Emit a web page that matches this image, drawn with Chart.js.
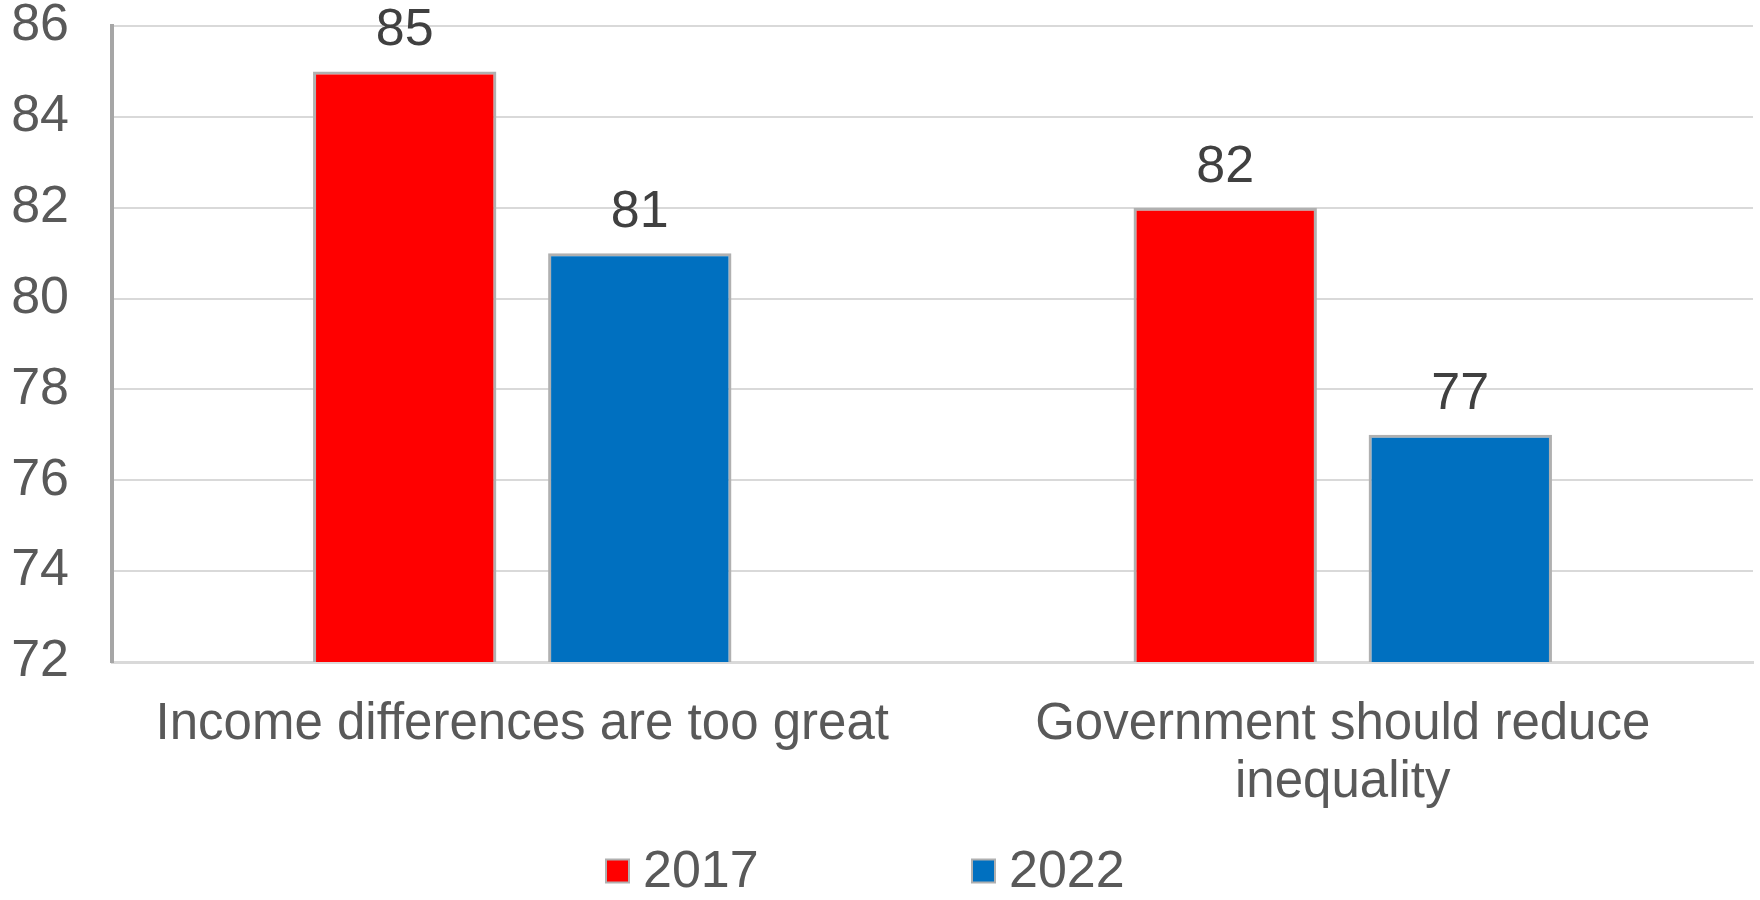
<!DOCTYPE html>
<html lang="en">
<head>
    <meta charset="UTF-8">
    <title>Income inequality attitudes 2017 vs 2022</title>
    <style>
        body {
            margin: 0;
            background: #fff;
        }

        #chart {
            display: block;
        }
    </style>
</head>
<body>
    <canvas id="chart" width="1760" height="900"></canvas>

    <script src="https://cdn.jsdelivr.net/npm/chart.js"></script>
    <script>
        // Survey data
        const categories = [
            'Income differences are too great',
            ['Government should reduce', 'inequality']
        ];
        const years = ['2017', '2022'];
        const values2017 = [85, 82];
        const values2022 = [81, 77];
        const yMin = 72;
        const yMax = 86;
        const yStep = 2;

        const FONT = "'Liberation Sans', Arial, sans-serif";
        const FONT_SIZE = 52;
        const colors = ['#ff0000', '#0070c0'];

        // Value labels above each bar
        const valueLabels = {
            id: 'valueLabels',
            afterDatasetsDraw(chart) {
                const ctx = chart.ctx;
                ctx.save();
                ctx.font = FONT_SIZE + 'px ' + FONT;
                ctx.fillStyle = '#404040';
                ctx.textAlign = 'center';
                ctx.textBaseline = 'alphabetic';
                chart.data.datasets.forEach((ds, i) => {
                    chart.getDatasetMeta(i).data.forEach((bar, j) => {
                        ctx.fillText(ds.data[j], bar.x, bar.y - 26);
                    });
                });
                ctx.restore();
            }
        };

        // Legend drawn under the category labels
        const bottomLegend = {
            id: 'bottomLegend',
            afterDraw(chart) {
                const ctx = chart.ctx;
                const startX = 606;
                const itemGap = 366;
                const cy = 871;
                const box = 23;
                ctx.save();
                ctx.font = FONT_SIZE + 'px ' + FONT;
                ctx.textBaseline = 'middle';
                ctx.textAlign = 'left';
                chart.data.datasets.forEach((ds, i) => {
                    const x = startX + i * itemGap;
                    ctx.fillStyle = ds.backgroundColor;
                    ctx.fillRect(x, cy - box / 2, box, box);
                    ctx.strokeStyle = '#b0b0b0';
                    ctx.lineWidth = 2;
                    ctx.strokeRect(x, cy - box / 2, box, box);
                    ctx.fillStyle = '#595959';
                    ctx.fillText(ds.label, x + box + 14, cy + 2);
                });
                ctx.restore();
            }
        };

        new Chart(document.getElementById('chart'), {
            type: 'bar',
            data: {
                labels: categories,
                datasets: [
                    {
                        label: years[0],
                        data: values2017,
                        backgroundColor: colors[0],
                        borderColor: '#b0b0b0',
                        borderWidth: 3
                    },
                    {
                        label: years[1],
                        data: values2022,
                        backgroundColor: colors[1],
                        borderColor: '#b0b0b0',
                        borderWidth: 3
                    }
                ]
            },
            options: {
                responsive: false,
                animation: false,
                categoryPercentage: 0.573,
                barPercentage: 0.78,
                layout: {
                    padding: { top: 26, right: 7, bottom: 70, left: 0 }
                },
                plugins: {
                    legend: { display: false },
                    tooltip: { enabled: false }
                },
                scales: {
                    x: {
                        afterFit(scale) { scale.height = 168; },
                        grid: { display: false },
                        border: { display: true, color: '#d9d9d9', width: 3 },
                        ticks: {
                            color: '#595959',
                            padding: 26,
                            maxRotation: 0,
                            autoSkip: false,
                            font: { family: FONT, size: 51, lineHeight: 1.14 }
                        }
                    },
                    y: {
                        min: yMin,
                        max: yMax,
                        afterFit(scale) { scale.width = 112; },
                        grid: {
                            color: '#d9d9d9',
                            lineWidth: 2,
                            drawTicks: true,
                            tickLength: 43,
                            tickColor: 'rgba(0,0,0,0)'
                        },
                        border: { display: true, color: '#a6a6a6', width: 4 },
                        ticks: {
                            stepSize: yStep,
                            color: '#595959',
                            padding: 0,
                            font: { family: FONT, size: FONT_SIZE, lineHeight: 1.0 }
                        }
                    }
                }
            },
            plugins: [valueLabels, bottomLegend]
        });
    </script>
</body>
</html>
